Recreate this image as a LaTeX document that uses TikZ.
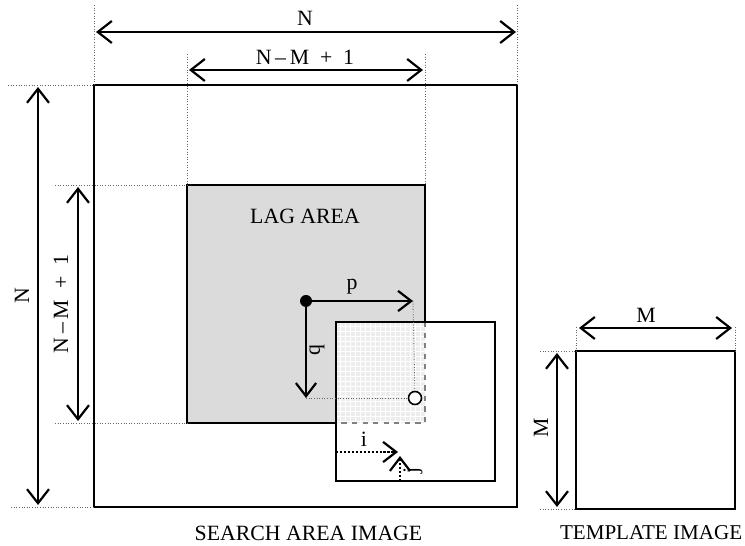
\documentclass[tikz,border=0pt]{standalone}
\usepackage{fontspec}
\setmainfont{Liberation Serif}
\usetikzlibrary{arrows.meta}
\usetikzlibrary{positioning}
\definecolor{lagfill}{rgb}{0.86, 0.86, 0.86}
\definecolor{overlapfill}{rgb}{0.93, 0.93, 0.93}
\tikzset{
  dimline/.style={line width=1.25pt, {Straight Barb[length=8pt, width=12.5pt, line width=1.25pt]}-{Straight Barb[length=8pt, width=12.5pt, line width=1.25pt]}},
  onetip/.style={line width=1.25pt, -{Straight Barb[length=7.5pt, width=11.5pt, line width=1.25pt]}},
  guide/.style={densely dotted, gray!80!black, line width=0.5pt},
  imgbox/.style={draw, line width=0.9pt},
  lbl/.style={font=\fontsize{12.4}{14}\selectfont, inner sep=0pt}
}

\begin{document}
\begin{tikzpicture}
    \useasboundingbox (0, 0) rectangle (14.9, 10.92);

    % search area and lag area
    \coordinate (sa-sw) at (1.88, 0.78);
    \coordinate (sa-ne) at (10.34, 9.22);
    \coordinate (la-sw) at (3.74, 2.46);
    \coordinate (la-ne) at (8.50, 7.22);

    \draw [imgbox] (sa-sw) rectangle (sa-ne);
    \draw [imgbox, fill=lagfill] (la-sw) rectangle (la-ne);
    \node [lbl] (lagarea) at (6.10, 6.60) {LAG AREA};

    % moving template window
    \coordinate (win-sw) at (6.72, 1.30);
    \coordinate (win-ne) at (9.90, 4.48);
    \draw [imgbox, fill=white] (win-sw) rectangle (win-ne);
    \fill [overlapfill] (6.72, 2.46) rectangle (8.50, 4.48);
    \draw [white, line width=0.25pt, step=0.1] (6.72, 2.46) grid (8.50, 4.48);
    \draw [dashed, gray, line width=0.6pt] (8.50, 4.48) -- (8.50, 2.46) -- (6.72, 2.46);
    \draw [imgbox] (win-sw) rectangle (win-ne);

    % top dimensions
    \draw [guide] (1.88, 10.82) -- (sa-sw |- sa-ne);
    \draw [guide] (10.34, 10.82) -- (sa-ne);
    \draw [guide] (3.74, 9.84) -- (la-sw |- la-ne);
    \draw [guide] (8.50, 9.84) -- (la-ne);
    \coordinate (nt-l) at (1.92, 10.28);
    \coordinate (nt-r) at (10.32, 10.28);
    \draw [dimline] (nt-l) -- (nt-r);
    \node [lbl] (ntop) at (6.10, 10.56) {N};
    \coordinate (nmt-l) at (3.78, 9.52);
    \coordinate (nmt-r) at (8.46, 9.52);
    \draw [dimline] (nmt-l) -- (nmt-r);
    \node [lbl] (nmtop) at (6.10, 9.78) {N\,–\,M \ + \ 1};

    % left dimensions
    \draw [guide] (0.16, 9.22) -- (sa-sw |- sa-ne);
    \draw [guide] (0.22, 0.78) -- (sa-sw);
    \draw [guide] (1.10, 7.22) -- (la-sw |- la-ne);
    \draw [guide] (1.10, 2.46) -- (la-sw);
    \coordinate (nl-t) at (0.76, 9.18);
    \coordinate (nl-b) at (0.76, 0.82);
    \draw [dimline] (nl-t) -- (nl-b);
    \node [lbl, rotate=90] (nleft) at (0.44, 5.00) {N};
    \coordinate (nml-t) at (1.56, 7.18);
    \coordinate (nml-b) at (1.56, 2.50);
    \draw [dimline] (nml-t) -- (nml-b);
    \node [lbl, rotate=90] (nmleft) at (1.22, 4.84) {N\,–\,M \ + \ 1};

    % lag vector p, q
    \coordinate (origin) at (6.12, 4.90);
    \coordinate (ptip) at (8.26, 4.90);
    \coordinate (qtip) at (6.12, 2.96);
    \node [draw, circle, fill=white, line width=0.9pt, minimum size=0.26cm, inner sep=0pt] (pq) at (8.30, 2.96) {};
    \draw [guide] (ptip) -- (pq);
    \draw [guide] (qtip) -- (pq);
    \draw [onetip] (origin) -- (ptip);
    \draw [onetip] (origin) -- (qtip);
    \fill (origin) circle (0.12);
    \node [lbl] (plabel) at (7.04, 5.18) {p};
    \node [lbl, rotate=90] (qlabel) at (6.34, 3.92) {q};

    % pixel indices i, j
    \coordinate (i-start) at (6.72, 1.88);
    \coordinate (i-tip) at (7.96, 1.88);
    \coordinate (j-start) at (8.00, 1.30);
    \coordinate (j-tip) at (8.00, 1.80);
    \draw [onetip, densely dotted] (i-start) -- (i-tip);
    \draw [onetip, densely dotted] (j-start) -- (j-tip);
    \node [lbl] (ilabel) at (7.28, 2.14) {i};
    \node [lbl, rotate=90] (jlabel) at (8.26, 1.52) {j};

    \node [lbl] (sacaption) at (6.17, 0.26) {SEARCH AREA IMAGE};

    % template image
    \begin{scope}[shift={(11.52, 0.74)}]
      \coordinate (tp-sw) at (0, 0);
      \coordinate (tp-ne) at (3.18, 3.16);
      \draw [imgbox] (tp-sw) rectangle (tp-ne);

      \draw [guide] (0, 3.64) -- (tp-sw |- tp-ne);
      \draw [guide] (3.18, 3.64) -- (tp-ne);
      \draw [dimline] (0.06, 3.62) -- (3.12, 3.62);
      \node [lbl] (mtop) at (1.40, 3.88) {M};

      \draw [guide] (-0.72, 3.16) -- (tp-sw |- tp-ne);
      \draw [guide] (-0.72, 0) -- (tp-sw);
      \draw [dimline] (-0.38, 3.12) -- (-0.38, 0.04);
      \node [lbl, rotate=90] (mleft) at (-0.70, 1.62) {M};

      \node [lbl, font=\fontsize{12}{14}\selectfont, anchor=east] (tpcaption) at (3.33, -0.48) {TEMPLATE IMAGE};
    \end{scope}
  \end{tikzpicture}
\end{document}
